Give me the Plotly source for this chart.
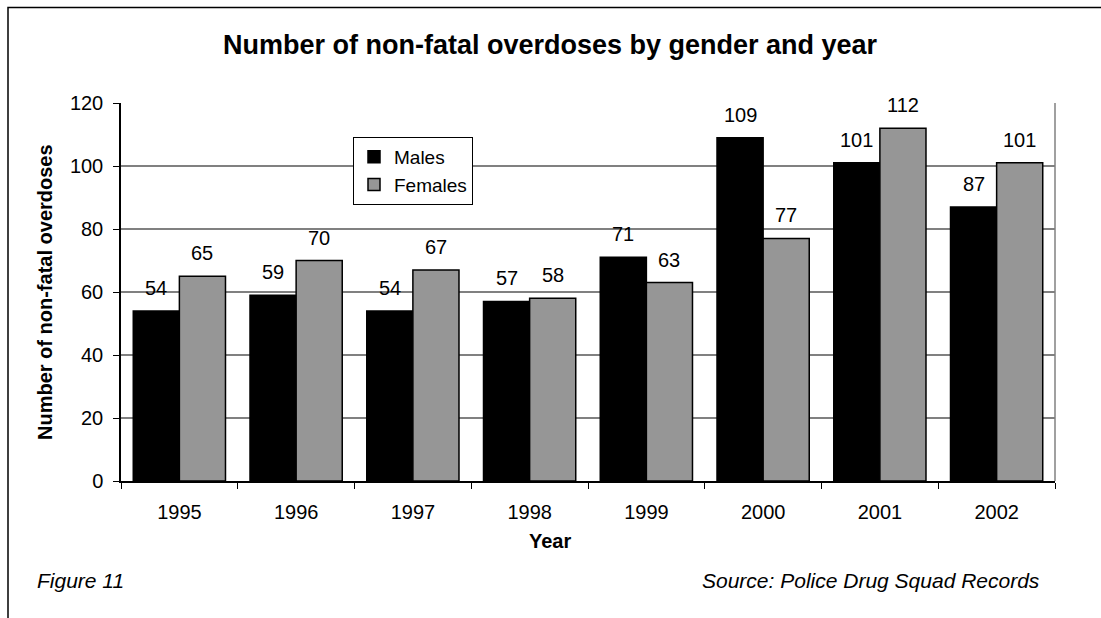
import plotly.graph_objects as go

# Non-fatal overdoses recorded per year, split by gender
years = ["1995", "1996", "1997", "1998", "1999", "2000", "2001", "2002"]
males = [54, 59, 54, 57, 71, 109, 101, 87]
females = [65, 70, 67, 58, 63, 77, 112, 101]
y_ticks = [0, 20, 40, 60, 80, 100, 120]

FONT = "Arial, Liberation Sans, sans-serif"
W, H = 1101, 618
ML, MR, MT, MB = 121, 46, 103, 137
plot_w = W - ML - MR
plot_h = H - MT - MB
BARGAP = 0.21
bar_px = plot_w / len(years) * (1 - BARGAP) / 2


def px_x(x):
    return (x - ML) / plot_w


def px_y(y):
    return (H - MB - y) / plot_h


fig = go.Figure()
fig.add_trace(go.Bar(
    x=years, y=males, name="Males",
    marker=dict(color="#000000", line=dict(color="#000000", width=1.5)),
))
fig.add_trace(go.Bar(
    x=years, y=females, name="Females",
    marker=dict(color="#969696", line=dict(color="#000000", width=1.5)),
))

annotations = []
# value labels above each bar (x given as category index)
for series, shift in ((males, -bar_px / 2), (females, bar_px / 2)):
    for i, v in enumerate(series):
        annotations.append(dict(
            x=i, y=v, xref="x", yref="y", text=str(v), showarrow=False,
            xshift=shift, yshift=10, yanchor="bottom",
            font=dict(family=FONT, size=20, color="#000000"),
        ))

annotations += [
    dict(text="Number of non-fatal overdoses", xref="paper", yref="paper",
         x=px_x(45), y=0.5, xanchor="center", yanchor="middle",
         textangle=-90, showarrow=False,
         font=dict(family=FONT, size=20, color="#000000", weight="bold")),
    dict(text="Year", xref="paper", yref="paper", x=px_x(550), y=px_y(541),
         xanchor="center", yanchor="middle", showarrow=False,
         font=dict(family=FONT, size=20, color="#000000", weight="bold")),
    dict(text="Figure 11", xref="paper", yref="paper", x=px_x(35), y=px_y(580),
         xanchor="left", yanchor="middle", showarrow=False,
         font=dict(family=FONT, size=21, color="#000000", style="italic")),
    dict(text="Source: Police Drug Squad Records", xref="paper", yref="paper",
         x=px_x(1042), y=px_y(580), xanchor="right", yanchor="middle",
         showarrow=False,
         font=dict(family=FONT, size=21, color="#000000", style="italic")),
]

shapes = [
    # outer chart frame (runs off the right and bottom edges)
    dict(type="rect", xref="paper", yref="paper",
         x0=px_x(8), x1=px_x(1120), y0=px_y(640), y1=px_y(7.5),
         line=dict(color="#000000", width=1.5), layer="below"),
    # right edge of the plot area
    dict(type="line", xref="paper", yref="paper", x0=1, x1=1, y0=0, y1=1,
         line=dict(color="#808080", width=1.5), layer="below"),
]

fig.update_layout(
    width=W, height=H,
    margin=dict(l=ML, r=MR, t=MT, b=MB, autoexpand=False),
    paper_bgcolor="#ffffff", plot_bgcolor="#ffffff",
    barmode="group", bargap=BARGAP, bargroupgap=0,
    title=dict(
        text="Number of non-fatal overdoses by gender and year",
        x=550 / W, xanchor="center", y=1 - 45 / H, yanchor="middle",
        font=dict(family=FONT, size=27, color="#000000", weight="bold"),
    ),
    font=dict(family=FONT, size=20, color="#000000"),
    legend=dict(
        x=px_x(353), y=px_y(137), xanchor="left", yanchor="top",
        bgcolor="#ffffff", bordercolor="#000000", borderwidth=1,
        font=dict(family=FONT, size=19, color="#000000"),
        itemwidth=30, tracegroupgap=0,
    ),
    xaxis=dict(
        type="category", range=[-0.5, len(years) - 0.5], autorange=False,
        showline=True, linecolor="#000000", linewidth=1.5,
        ticks="outside", tickson="boundaries", ticklen=6, tickcolor="#000000",
        tickwidth=1, showgrid=False, ticklabelstandoff=12,
        tickfont=dict(family=FONT, size=20, color="#000000"),
    ),
    yaxis=dict(
        range=[0, 120], autorange=False, tickvals=y_ticks, showline=True,
        linecolor="#000000", linewidth=1.5, ticks="outside", ticklen=6,
        tickcolor="#000000", tickwidth=1, showgrid=True, gridcolor="#808080",
        gridwidth=1.5, zeroline=False, ticklabelstandoff=6,
        tickfont=dict(family=FONT, size=20, color="#000000"),
    ),
    annotations=annotations,
    shapes=shapes,
)

fig.write_html("out.html")
